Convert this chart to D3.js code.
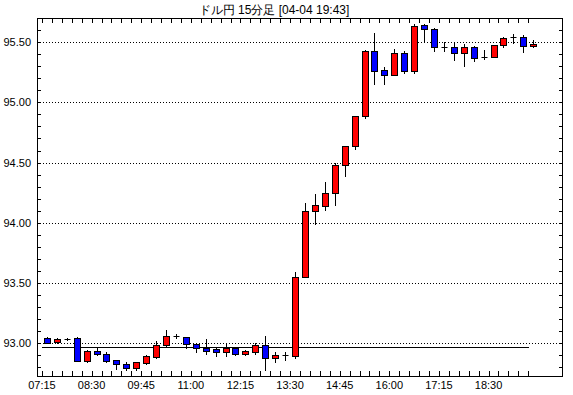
<!DOCTYPE html>
<html><head><meta charset="utf-8">
<script src="https://cdn.jsdelivr.net/npm/d3@7"></script>
<style>
html,body{margin:0;padding:0;background:#fff;}
svg{display:block;}
text{font-family:"Liberation Sans",Arial,sans-serif;font-size:11px;fill:#000;}
</style></head>
<body>
<script>
const title = "ドル円 15分足 [04-04 19:43]";
const times = ["07:15","07:30","07:45","08:00","08:15","08:30","08:45","09:00","09:15","09:30",
"09:45","10:00","10:15","10:30","10:45","11:00","11:15","11:30","11:45","12:00",
"12:15","12:30","12:45","13:00","13:15","13:30","13:45","14:00","14:15","14:30",
"14:45","15:00","15:15","15:30","15:45","16:00","16:15","16:30","16:45","17:00",
"17:15","17:30","17:45","18:00","18:15","18:30","18:45","19:00","19:15","19:30"];
const open  = [93.042,93.008,93.036,93.042,92.855,92.936,92.911,92.861,92.828,92.792,
92.838,92.888,92.986,93.060,93.050,92.992,92.963,92.953,92.930,92.963,
92.908,92.930,92.986,92.875,92.903,92.895,93.547,94.097,94.136,94.250,
94.478,94.636,94.886,95.422,95.270,95.230,95.408,95.263,95.644,95.605,
95.458,95.458,95.408,95.458,95.375,95.375,95.475,95.542,95.542,95.467];
const high  = [93.050,93.042,93.047,93.050,92.940,92.972,92.930,92.865,92.842,92.842,
92.903,93.019,93.111,93.075,93.050,93.000,93.036,92.972,93.000,92.963,
92.940,93.000,93.063,92.925,92.925,93.588,94.167,94.236,94.338,94.494,
94.640,94.890,95.436,95.575,95.297,95.444,95.422,95.647,95.653,95.617,
95.500,95.500,95.486,95.467,95.438,95.480,95.542,95.569,95.561,95.514];
const low   = [93.000,93.005,93.028,92.855,92.847,92.900,92.842,92.783,92.778,92.778,
92.825,92.880,92.978,93.042,92.958,92.925,92.908,92.894,92.894,92.900,
92.905,92.908,92.778,92.842,92.861,92.880,93.547,93.986,94.110,94.147,
94.389,94.610,94.867,95.152,95.152,95.230,95.242,95.242,95.500,95.430,
95.422,95.355,95.305,95.342,95.361,95.375,95.458,95.492,95.417,95.458];
const close = [93.005,93.033,93.036,92.855,92.936,92.908,92.855,92.828,92.792,92.842,
92.894,92.986,93.061,93.060,92.992,92.958,92.938,92.930,92.958,92.908,
92.936,92.986,92.875,92.903,92.903,93.547,94.097,94.144,94.250,94.478,
94.636,94.886,95.422,95.263,95.230,95.408,95.263,95.633,95.605,95.458,
95.458,95.408,95.458,95.367,95.375,95.478,95.533,95.542,95.464,95.486];
const refLevel = 92.965;
const yTicks = [93.00,93.50,94.00,94.50,95.00,95.50];
const xLabelTimes = ["07:15","08:30","09:45","11:00","12:15","13:30","14:45","16:00","17:15","18:30"];

const W=573,H=395, L=37, R=563, T=18, B=377;
const svg = d3.select("body").append("svg").attr("width",W).attr("height",H);
const x = d3.scaleLinear().domain([-1,52]).range([L,R]);
const y = d3.scaleLinear().domain([92.72,95.70]).range([B,T]);
const data = times.map((t,i)=>({t,i,o:open[i],h:high[i],l:low[i],c:close[i]}));

svg.append("text").attr("x",274).attr("y",14).attr("text-anchor","middle").style("font-size","12px").text(title);

// gridlines
svg.append("g").selectAll("line").data(yTicks).join("line")
 .attr("x1",L).attr("x2",R)
 .attr("y1",d=>Math.round(y(d))+0.5).attr("y2",d=>Math.round(y(d))+0.5)
 .attr("stroke","#000").attr("stroke-dasharray","1,2");

// y labels
svg.append("g").selectAll("text").data(yTicks).join("text")
 .attr("x",31).attr("y",d=>Math.round(y(d))).attr("dy","0.35em").attr("text-anchor","end")
 .text(d=>d.toFixed(2));

// minor y ticks on left and right
const minor = d3.range(92.8,95.71,0.1).map(v=>+v.toFixed(2));
svg.append("g").selectAll("line").data(minor).join("line")
 .attr("x1",L).attr("x2",L+4).attr("y1",d=>Math.round(y(d))+0.5).attr("y2",d=>Math.round(y(d))+0.5).attr("stroke","#000");
svg.append("g").selectAll("line").data(minor).join("line")
 .attr("x1",R-4).attr("x2",R).attr("y1",d=>Math.round(y(d))+0.5).attr("y2",d=>Math.round(y(d))+0.5).attr("stroke","#000");

// x ticks top/bottom at slot boundaries
const slots = d3.range(0,times.length);
svg.append("g").selectAll("line").data(slots).join("line")
 .attr("x1",d=>Math.round(x(d-0.5))+0.5).attr("x2",d=>Math.round(x(d-0.5))+0.5)
 .attr("y1",T).attr("y2",T+5).attr("stroke","#000");
svg.append("g").selectAll("line").data(slots).join("line")
 .attr("x1",d=>Math.round(x(d-0.5))+0.5).attr("x2",d=>Math.round(x(d-0.5))+0.5)
 .attr("y1",B-6).attr("y2",B).attr("stroke","#000");

// x labels
svg.append("g").selectAll("text").data(xLabelTimes).join("text")
 .attr("x",d=>x(times.indexOf(d)-0.5)).attr("y",389).attr("text-anchor","middle").text(d=>d);

// reference line
svg.append("line").attr("x1",Math.round(x(-0.5))).attr("x2",Math.round(x(times.length-1.5))+1)
 .attr("y1",Math.round(y(refLevel))+0.5).attr("y2",Math.round(y(refLevel))+0.5).attr("stroke","#000");

// candles
const g = svg.append("g");
data.forEach(d=>{
  const cx = Math.round(x(d.i))+0.5;
  g.append("line").attr("x1",cx).attr("x2",cx).attr("y1",Math.round(y(d.h))).attr("y2",Math.round(y(d.l))+1).attr("stroke","#000");
  const top = Math.round(y(Math.max(d.o,d.c))), bot = Math.round(y(Math.min(d.o,d.c)));
  if (bot-top < 2) {
    g.append("line").attr("x1",cx-3).attr("x2",cx+3).attr("y1",top+0.5).attr("y2",top+0.5).attr("stroke","#000");
  } else {
    g.append("rect").attr("x",cx-3).attr("y",top+0.5).attr("width",6).attr("height",bot-top)
     .attr("fill", d.c>d.o ? "#ff0000" : "#0000ff").attr("stroke","#000");
  }
});

// frame
svg.append("rect").attr("x",L+0.5).attr("y",T+0.5).attr("width",R-L-1).attr("height",B-T-1)
 .attr("fill","none").attr("stroke","#000");
</script>
</body></html>
